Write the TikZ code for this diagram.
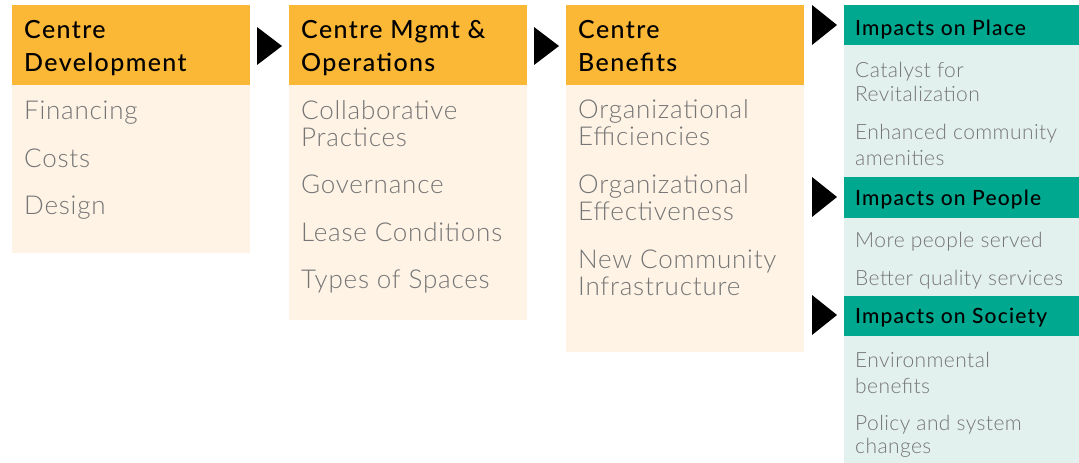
\documentclass[tikz,border=0pt]{standalone}
\usepackage{fontspec}
\setmainfont{Lato}
\newfontfamily\hdrfont{Lato Medium}[LetterSpace=5.5]
\newfontfamily\itmfont{Lato Light}[LetterSpace=3]
\newfontfamily\itmfontS{Lato Light}[LetterSpace=2]
\definecolor{hdrorange}{HTML}{FBB836}
\definecolor{bodycream}{HTML}{FEF3E5}
\definecolor{hdrteal}{HTML}{00A88F}
\definecolor{bodyteal}{HTML}{E3F1EE}
\definecolor{txtgray}{HTML}{757575}
\begin{document}
\begin{tikzpicture}[x=1pt,y=-1pt,
  hdr/.style={anchor=base west,inner sep=0pt,font=\hdrfont\fontsize{25}{30}\selectfont,text=black},
  itm/.style={anchor=base west,inner sep=0pt,font=\itmfont\fontsize{26}{30}\selectfont,text=txtgray},
  hdrs/.style={anchor=base west,inner sep=0pt,font=\hdrfont\fontsize{21}{25}\selectfont,text=black},
  itms/.style={anchor=base west,inner sep=0pt,font=\itmfontS\fontsize{21}{25}\selectfont,text=txtgray},
  tri/.style={fill=black}]
\useasboundingbox (0,0) rectangle (1079,463);
% column 1
\fill[bodycream] (12,85) rectangle (250,253);
\fill[hdrorange] (12,5) rectangle (250,85);
\node[hdr] (c1h1) at (24,38) {Centre};
\node[hdr] (c1h2) at (24,71) {Development};
\node[itm] (c1a) at (24,119) {Financing};
\node[itm] (c1b) at (24,167) {Costs};
\node[itm] (c1c) at (24,214) {Design};
% column 2
\fill[bodycream] (289,85) rectangle (527,320);
\fill[hdrorange] (289,5) rectangle (527,85);
\node[hdr] (c2h1) at (301,38) {Centre Mgmt \&};
\node[hdr] (c2h2) at (301,71) {Operations};
\node[itm] (c2a1) at (301,119) {Collaborative};
\node[itm] (c2a2) at (301,146) {Practices};
\node[itm] (c2b) at (301,193) {Governance};
\node[itm] (c2c) at (301,241) {Lease Conditions};
\node[itm] (c2d) at (301,288) {Types of Spaces};
% column 3
\fill[bodycream] (566,85) rectangle (804,352);
\fill[hdrorange] (566,5) rectangle (804,85);
\node[hdr] (c3h1) at (578,38) {Centre};
\node[hdr] (c3h2) at (578,71) {Benefits};
\node[itm] (c3a1) at (578,118) {Organizational};
\node[itm] (c3a2) at (578,145) {Efficiencies};
\node[itm] (c3b1) at (578,193) {Organizational};
\node[itm] (c3b2) at (578,220) {Effectiveness};
\node[itm] (c3c1) at (578,268) {New Community};
\node[itm] (c3c2) at (578,295) {Infrastructure};
% column 4
\fill[bodyteal] (844,5) rectangle (1079,463);
\fill[hdrteal] (844,5) rectangle (1079,45);
\fill[hdrteal] (844,177) rectangle (1079,218);
\fill[hdrteal] (844,296) rectangle (1079,336);
\node[hdrs] (p1) at (855,35) {Impacts on Place};
\node[itms] (p1a1) at (855,77) {Catalyst for};
\node[itms] (p1a2) at (855,101) {Revitalization};
\node[itms] (p1b1) at (855,139) {Enhanced community};
\node[itms] (p1b2) at (855,165) {amenities};
\node[hdrs] (p2) at (855,205) {Impacts on People};
\node[itms] (p2a) at (855,247) {More people served};
\node[itms] (p2b) at (855,285) {Better quality services};
\node[hdrs] (p3) at (855,323) {Impacts on Society};
\node[itms] (p3a1) at (855,367) {Environmental};
\node[itms] (p3a2) at (855,393) {benefits};
\node[itms] (p3b1) at (855,430) {Policy and system};
\node[itms] (p3b2) at (855,453) {changes};
% arrows
\fill[tri] (257,27) -- (282,46) -- (257,65) -- cycle;
\fill[tri] (534,27) -- (559,46) -- (534,65) -- cycle;
\fill[tri] (812,5) -- (837,25) -- (812,45) -- cycle;
\fill[tri] (812,177) -- (837,197) -- (812,217) -- cycle;
\fill[tri] (812,295) -- (837,315) -- (812,335) -- cycle;
\end{tikzpicture}
\end{document}
